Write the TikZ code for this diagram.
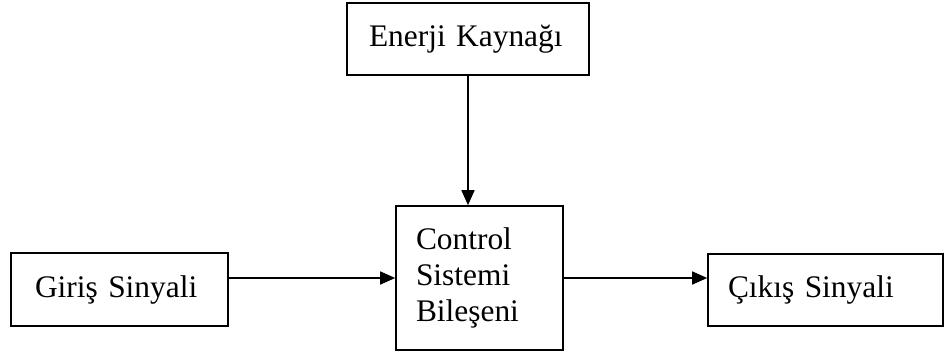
\documentclass[tikz,border=0pt]{standalone}
\usepackage{fontspec}
\setmainfont{Liberation Serif}
\usetikzlibrary{arrows.meta}
\tikzset{
  blk/.style={draw=black, line width=1.6pt, rectangle, inner sep=0pt, font=\fontsize{31.4}{36}\selectfont, align=left},
  conn/.style={line width=1.6pt, -{Triangle[length=15pt,width=13pt]}}
}
\begin{document}
\begin{tikzpicture}[x=1pt,y=-1pt]
\useasboundingbox (0,0) rectangle (945,354);
\node[blk, minimum width=242pt, minimum height=72pt, text width=198pt] (enerji) at (468,39) {Enerji Kaynağı};
\node[blk, minimum width=167pt, minimum height=144pt, text width=127pt] (control) at (479.5,278) {Control\\Sistemi\\Bileşeni};
\node[blk, minimum width=217pt, minimum height=73pt, text width=169pt] (giris) at (119.5,289.5) {Giriş Sinyali};
\node[blk, minimum width=235pt, minimum height=72pt, text width=195pt] (cikis) at (825.5,290) {Çıkış Sinyali};
\draw[conn] (enerji.south) -- (enerji.south |- control.north);
\draw[conn] (giris.east |- control.west) -- (control.west);
\draw[conn] (control.east) -- (control.east -| cikis.west);
\end{tikzpicture}
\end{document}
